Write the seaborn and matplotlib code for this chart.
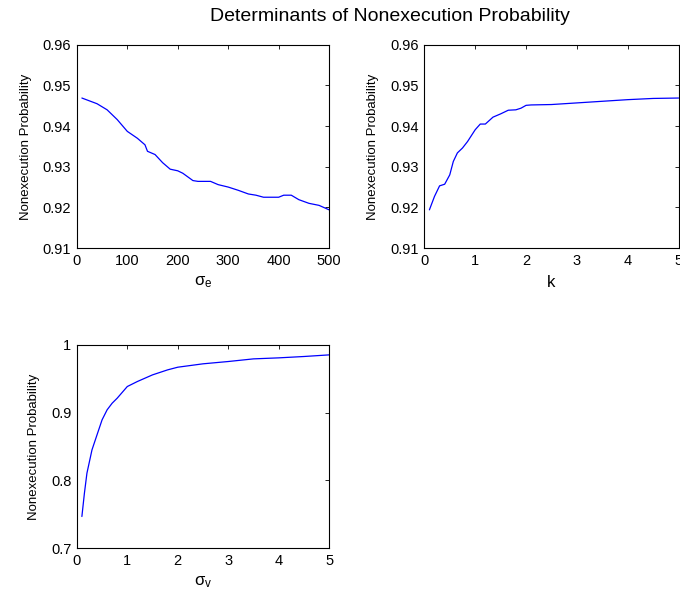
import numpy as np
import pandas as pd
import matplotlib
matplotlib.use('Agg')
import matplotlib.pyplot as plt
import seaborn as sns

# Values
sigma_e = [10, 40, 60, 80, 100, 120, 135, 140, 155, 170, 185, 200, 210, 230, 240,
           265, 280, 300, 320, 340, 355, 370, 400, 410, 425, 440, 460, 480, 500]
prob_e = [0.9469, 0.9455, 0.9440, 0.9416, 0.9387, 0.9370, 0.9354, 0.9338, 0.9330,
          0.9310, 0.9294, 0.9290, 0.9284, 0.9266, 0.9264, 0.9264, 0.9256, 0.9250,
          0.9242, 0.9233, 0.9230, 0.9225, 0.9225, 0.9230, 0.9230, 0.9219, 0.9210,
          0.9205, 0.9194]

k_vals = [0.1, 0.2, 0.3, 0.4, 0.5, 0.57, 0.65, 0.75, 0.85, 1.0, 1.1, 1.2, 1.35, 1.5,
          1.65, 1.8, 1.9, 2.0, 2.1, 2.5, 3.0, 3.5, 4.0, 4.5, 5.0]
prob_k = [0.9194, 0.9227, 0.9253, 0.9257, 0.9280, 0.9313, 0.9334, 0.9346, 0.9362,
          0.9391, 0.9405, 0.9405, 0.9422, 0.9430, 0.9439, 0.9440, 0.9444, 0.9451,
          0.9452, 0.9453, 0.9457, 0.9461, 0.9465, 0.9468, 0.9469]

sigma_v = [0.1, 0.15, 0.2, 0.3, 0.4, 0.5, 0.6, 0.7, 0.8, 1.0, 1.2, 1.5, 1.8, 2.0,
           2.5, 3.0, 3.5, 4.0, 4.5, 5.0]
prob_v = [0.7467, 0.7810, 0.8106, 0.8450, 0.8672, 0.8893, 0.9041, 0.9139, 0.9213,
          0.9385, 0.9459, 0.9557, 0.9631, 0.9670, 0.9720, 0.9754, 0.9793, 0.9808,
          0.9828, 0.9852]

sns.set_style('white')
plt.rcParams['font.family'] = ['Liberation Sans', 'DejaVu Sans']
plt.rcParams['mathtext.fontset'] = 'custom'
plt.rcParams['mathtext.rm'] = 'Liberation Sans'
plt.rcParams['mathtext.it'] = 'Liberation Sans'
plt.rcParams['text.color'] = 'black'
plt.rcParams['axes.labelcolor'] = 'black'
plt.rcParams['xtick.color'] = 'black'
plt.rcParams['ytick.color'] = 'black'

fig = plt.figure(figsize=(6.8, 6.05), dpi=100)
ax1 = fig.add_axes([0.113, 0.590, 0.371, 0.336])
ax2 = fig.add_axes([0.624, 0.590, 0.374, 0.336])
ax3 = fig.add_axes([0.113, 0.094, 0.371, 0.336])

panels = [
    (ax1, sigma_e, prob_e, r'$\sigma_\mathrm{e}$', (0, 500), np.arange(0, 501, 100),
     (0.91, 0.96), [0.91, 0.92, 0.93, 0.94, 0.95, 0.96]),
    (ax2, k_vals, prob_k, 'k', (0, 5), np.arange(0, 6),
     (0.91, 0.96), [0.91, 0.92, 0.93, 0.94, 0.95, 0.96]),
    (ax3, sigma_v, prob_v, r'$\sigma_\mathrm{v}$', (0, 5), np.arange(0, 6),
     (0.7, 1.0), [0.7, 0.8, 0.9, 1.0]),
]

for ax, x, y, xlab, xlim, xt, ylim, yt in panels:
    df = pd.DataFrame({'x': x, 'y': y})
    sns.lineplot(x='x', y='y', data=df, ax=ax, color='#0000ff', linewidth=0.9)
    ax.set_xlim(*xlim)
    ax.set_ylim(*ylim)
    ax.set_xticks(xt)
    ax.set_yticks(yt)
    ax.set_yticklabels([('%g' % v) for v in yt])
    ax.set_xlabel(xlab, fontsize=12, labelpad=5)
    ax.set_ylabel('Nonexecution Probability', fontsize=9.5, labelpad=8)
    ax.tick_params(direction='in', top=True, right=True, length=3,
                   labelsize=10.5, width=0.6, pad=4)
    for s in ax.spines.values():
        s.set_color('black')
        s.set_linewidth(0.8)

fig.text(0.573, 0.972, 'Determinants of Nonexecution Probability',
         ha='center', va='center', fontsize=14)

plt.savefig('out.png', dpi=100)
